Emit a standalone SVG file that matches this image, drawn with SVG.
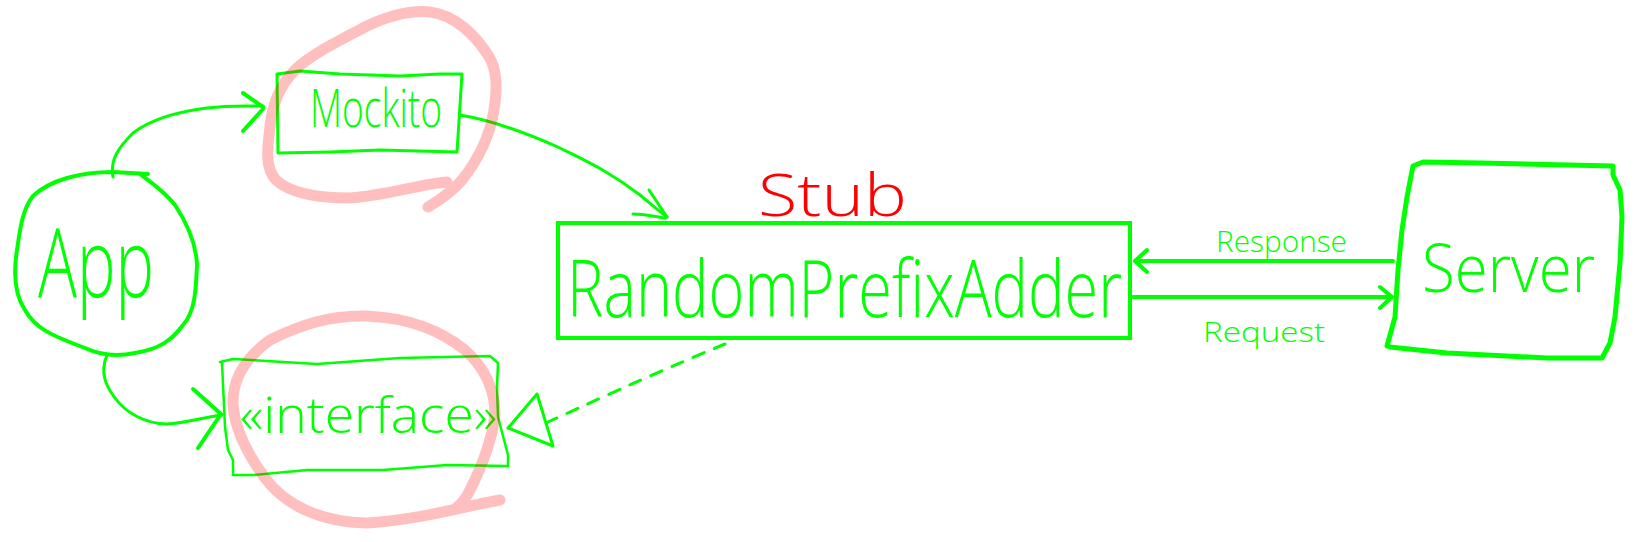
<svg xmlns="http://www.w3.org/2000/svg" width="1639" height="542" viewBox="0 0 1639 542">
<style>
.g{fill:none;stroke:#00ff00;stroke-linecap:round;stroke-linejoin:round}
.t{fill:#00ff00;font-family:"Open Sans","Liberation Sans",sans-serif;font-weight:300}
.hl{fill:none;stroke:#ff0000;stroke-opacity:0.25;stroke-width:11;stroke-linecap:round;stroke-linejoin:round}
</style>
<rect width="1639" height="542" fill="#ffffff"/>
<g id="app">
<path class="g" stroke-width="4" d="M148,174 L113,172 C80,172 50,180 33,196 C22,210 20,230 17,250 C13,275 15,295 25,310 C35,328 50,335 85,348 C100,355 115,357 135,353 C160,349 172,340 183,325 C195,312 196,290 197,265 C196,240 185,220 175,205 C165,192 152,183 140,174"/>
<text class="t" x="38" y="297" font-size="96" textLength="116" lengthAdjust="spacingAndGlyphs">App</text>
</g>
<g id="mockito">
<path class="g" stroke-width="3" d="M277,74 L300,71 L340,74 L400,76 L440,74 L462,74 L457,152 L380,150 L330,152 L278,153 Z"/>
<text class="t" x="310" y="127" font-size="54" textLength="132" lengthAdjust="spacingAndGlyphs">Mockito</text>
</g>
<g id="interface">
<path class="g" stroke-width="2.5" d="M220,362 L233,359 L317,364 L400,358 L490,356 L498,363 L497,387 L498,417 L508,455 L508,466 L447,465 L383,470 L307,470 L253,475 L233,475 L233,460 L228,450 L225,427 L222,363"/>
<text class="t" x="240" y="433" font-size="50" textLength="257" lengthAdjust="spacingAndGlyphs">«interface»</text>
</g>
<g id="randomprefixadder">
<rect x="558" y="223" width="572" height="115" fill="none" stroke="#00ff00" stroke-width="4"/>
<text class="t" x="567" y="317" font-size="80" textLength="555" lengthAdjust="spacingAndGlyphs">RandomPrefixAdder</text>
<text x="758" y="216" font-size="58" fill="#ff0000" font-family="'Open Sans','Liberation Sans',sans-serif" font-weight="300" textLength="149" lengthAdjust="spacingAndGlyphs">Stub</text>
</g>
<g id="server">
<path class="g" stroke-width="5" d="M1413,166 L1423,162 L1480,163 L1613,166 L1613,175 L1620,190 L1622,217 L1620,263 L1615,317 L1610,343 L1602,358 L1547,358 L1447,353 L1390,347 L1387,346 L1395,317 L1398,270 L1402,230 L1407,197 Z"/>
<text class="t" x="1422" y="292" font-size="66" textLength="173" lengthAdjust="spacingAndGlyphs">Server</text>
</g>
<g id="connectors">
<path class="g" stroke-width="3" d="M113,177 C110,160 118,148 133,133 C150,120 175,112 207,108 C230,105 245,106 263,106"/>
<path class="g" stroke-width="4" d="M243,93 L263,107 M263,109 L243,131"/>
<path class="g" stroke-width="3" d="M107,355 C100,372 105,385 115,398 C125,412 145,424 167,424 C185,423 200,418 222,415"/>
<path class="g" stroke-width="4" d="M193,389 L221,414 L198,448"/>
<path class="g" stroke-width="3" d="M460,115 C490,120 520,130 560,148 C590,163 610,172 640,195 C652,205 660,212 667,217"/>
<path class="g" stroke-width="3" d="M649,190 L667,217 M633,214 C645,214 655,217 665,218"/>
<path class="g" stroke-width="3" stroke-dasharray="12 11" d="M725,344 Q650,375 548,422"/>
<path class="g" stroke-width="3" fill="#ffffff" d="M537,394 L508,428 L553,446 Z"/>
<path class="g" stroke-width="4" d="M1393,261 L1135,261 M1147,250 L1135,261 L1147,272"/>
<text class="t" x="1216" y="252" font-size="30" textLength="131" lengthAdjust="spacingAndGlyphs">Response</text>
<path class="g" stroke-width="4" d="M1133,297 L1392,297 M1380,287 L1392,297 L1380,308"/>
<text class="t" x="1203" y="342" font-size="28" textLength="122" lengthAdjust="spacingAndGlyphs">Request</text>
</g>
<g id="highlights">
<path class="hl" d="M447,182 C420,184 390,195 350,198 C318,198 290,193 276,180 C265,168 267,150 270,127 C272,105 280,85 295,70 C310,55 340,40 365,27 C390,15 410,10 430,12 C455,15 475,35 488,55 C498,70 497,90 494,110 C490,135 478,160 462,180 C452,192 440,200 428,207"/>
<path class="hl" d="M500,500 C470,505 420,520 367,523 C320,522 285,505 265,478 C248,455 235,430 233,405 C232,380 245,358 270,340 C300,325 330,315 367,316 C410,318 440,330 465,350 C485,368 495,390 495,415 C492,440 480,470 470,490 C465,500 460,505 457,507"/>
</g>
</svg>
